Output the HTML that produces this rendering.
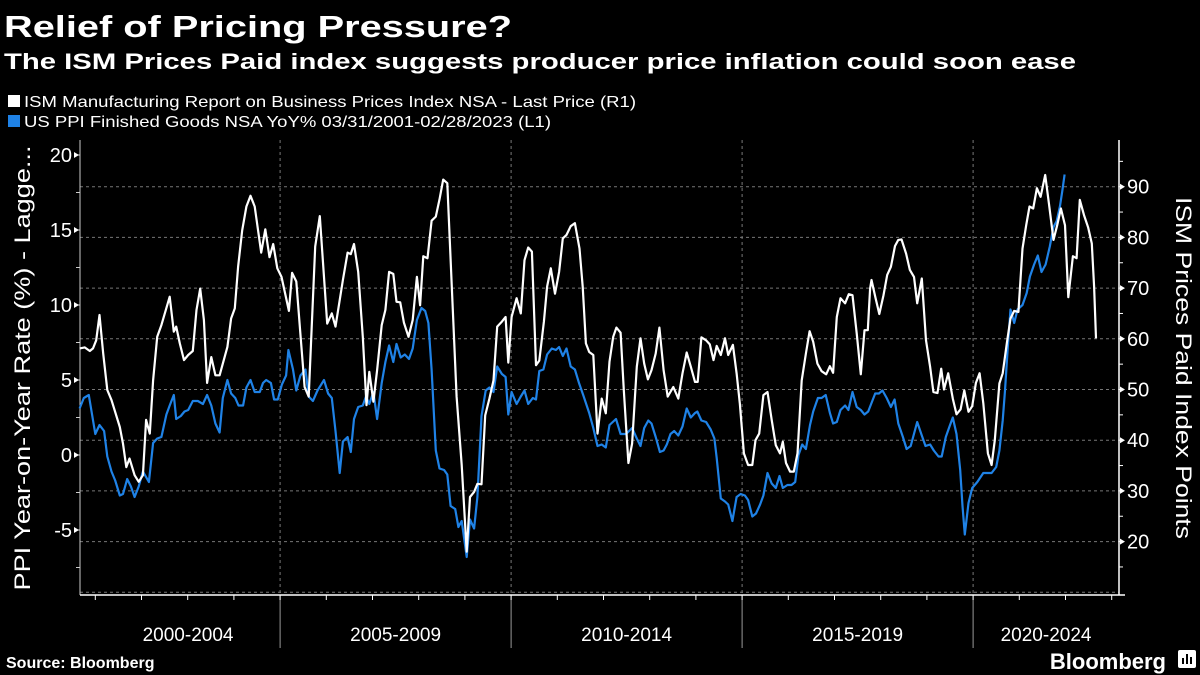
<!DOCTYPE html>
<html><head><meta charset="utf-8"><style>
html,body{margin:0;padding:0;background:#000;}
svg{display:block;font-family:"Liberation Sans","DejaVu Sans",sans-serif;}
</style></head><body>
<svg id="chart" width="1200" height="675" viewBox="0 0 1200 675" xmlns="http://www.w3.org/2000/svg">
<rect width="1200" height="675" fill="#000"/>
<text x="4" y="37" fill="#fff" font-size="31" font-weight="bold" textLength="508" lengthAdjust="spacingAndGlyphs">Relief of Pricing Pressure?</text>
<text x="4" y="69" fill="#fff" font-size="22" font-weight="bold" textLength="1072" lengthAdjust="spacingAndGlyphs">The ISM Prices Paid index suggests producer price inflation could soon ease</text>
<g>
<g>
<rect x="8" y="95" width="12" height="12" fill="#fff"/>
<text x="24" y="107" fill="#fff" font-size="16" textLength="612" lengthAdjust="spacingAndGlyphs">ISM Manufacturing Report on Business Prices Index NSA - Last Price (R1)</text>
</g>
<g>
<rect x="8" y="115" width="12" height="12" fill="#1f82e6"/>
<text x="24" y="127" fill="#fff" font-size="16" textLength="527" lengthAdjust="spacingAndGlyphs">US PPI Finished Goods NSA YoY% 03/31/2001-02/28/2023 (L1)</text>
</g>
</g>
<g id="grid"></g>
<g id="axes"></g>
<g id="series"></g>
<text transform="translate(30,368) rotate(-90)" text-anchor="middle" fill="#fff" font-size="22" textLength="445" lengthAdjust="spacingAndGlyphs">PPI Year-on-Year Rate (%) - Lagge...</text>
<text transform="translate(1176,368) rotate(90)" text-anchor="middle" fill="#fff" font-size="22" textLength="342" lengthAdjust="spacingAndGlyphs">ISM Prices Paid Index Points</text>
<text x="6" y="668" fill="#fff" font-size="16" font-weight="bold">Source: Bloomberg</text>
<text x="1166" y="669" text-anchor="end" fill="#fff" font-size="22" font-weight="bold">Bloomberg</text>
<g>
<rect x="1178" y="650" width="18" height="18" rx="2" fill="#fff"/>
<rect x="1182" y="658" width="2" height="6" fill="#000"/><rect x="1186" y="654" width="2" height="10" fill="#000"/><rect x="1190" y="657" width="2" height="7" fill="#000"/>
</g>
</svg>
<script>
// ISM Prices Paid (right axis): decimal years and values
const ismYears = [2000.66,2000.77,2000.88,2000.95,2001.02,2001.09,2001.17,2001.26,2001.35,2001.53,2001.60,2001.67,2001.74,2001.85,2001.94,2002.03,2002.10,2002.18,2002.25,2002.34,2002.43,2002.61,2002.70,2002.75,2002.83,2002.92,2003.01,2003.11,2003.19,2003.27,2003.35,2003.42,2003.51,2003.60,2003.69,2003.86,2003.94,2004.02,2004.09,2004.18,2004.27,2004.36,2004.45,2004.59,2004.68,2004.77,2004.85,2004.94,2005.03,2005.19,2005.26,2005.35,2005.45,2005.53,2005.62,2005.76,2005.86,2006.02,2006.12,2006.20,2006.36,2006.46,
2006.53,2006.60,2006.69,2006.79,2006.87,2006.93,2007.02,2007.10,2007.20,2007.28,2007.36,2007.45,2007.52,2007.60,2007.68,2007.78,2007.87,2007.96,2008.03,2008.10,2008.19,2008.28,2008.37,2008.45,2008.53,2008.62,2008.71,2008.82,2008.93,2009.04,2009.11,2009.20,2009.27,2009.36,2009.44,2009.53,2009.62,2009.70,2009.80,2009.88,2009.94,2010.01,2010.12,2010.21,2010.29,2010.37,2010.45,2010.54,2010.61,2010.71,2010.78,2010.86,2010.95,2011.04,2011.12,2011.20,2011.29,2011.38,2011.48,2011.55,2011.62,2011.69,2011.78,2011.87,2011.96,2012.05,2012.13,
2012.21,2012.28,2012.37,2012.44,2012.54,2012.62,2012.72,2012.80,2012.88,2012.96,2013.04,2013.13,2013.21,2013.30,2013.39,2013.51,2013.62,2013.71,2013.80,2013.89,2013.98,2014.04,2014.12,2014.22,2014.30,2014.38,2014.45,2014.54,2014.63,2014.70,2014.80,2014.88,2014.95,2015.04,2015.13,2015.22,2015.29,2015.37,2015.46,2015.55,2015.64,2015.73,2015.82,2015.88,2015.95,2016.04,2016.12,2016.20,2016.29,2016.38,2016.46,2016.54,2016.63,2016.72,2016.82,2016.90,2016.97,2017.05,2017.13,2017.23,2017.31,2017.39,2017.48,2017.57,2017.65,2017.72,2017.77,
2017.80,2017.89,2017.97,2018.06,2018.14,2018.22,2018.31,2018.38,2018.45,2018.55,2018.63,2018.72,2018.79,2018.89,2018.98,2019.07,2019.14,2019.23,2019.31,2019.37,2019.46,2019.56,2019.64,2019.73,2019.81,2019.90,2019.98,2020.06,2020.14,2020.22,2020.32,2020.40,2020.47,2020.57,2020.64,2020.73,2020.81,2020.89,2020.98,2021.07,2021.15,2021.22,2021.30,2021.38,2021.46,2021.56,2021.64,2021.74,2021.82,2021.90,2021.99,2022.06,2022.16,2022.24,2022.31,2022.40,2022.49,2022.57,2022.62,2022.66];
const ismValues = [58.1,58.3,57.6,58.1,59.7,64.7,57.1,49.9,47.9,42.6,39.3,34.7,36.4,33.1,31.8,33.1,44.0,41.3,51.8,60.4,62.7,68.3,61.4,62.4,59.1,55.8,56.8,57.6,65.7,69.9,63.7,51.3,56.4,52.8,52.8,58.4,64.0,66.0,74.2,81.4,86.1,88.2,86.1,77.0,81.6,76.1,78.7,73.9,72.2,65.5,73.0,71.3,59.7,50.5,48.6,78.2,84.2,63.0,65.0,62.4,71.6,77.0,
76.7,78.7,73.2,60.4,46.9,53.5,47.6,53.8,62.7,65.7,73.2,72.8,67.3,67.2,63.2,60.4,63.7,72.2,66.6,76.3,75.9,83.3,84.1,87.5,91.4,90.7,71.6,48.6,35.1,18.0,28.8,29.8,31.4,31.3,44.9,48.2,51.8,62.4,63.4,64.3,55.3,64.3,68.0,65.0,75.5,78.0,77.2,54.8,55.7,63.4,70.3,73.9,68.9,73.2,79.8,80.5,82.2,82.8,77.8,70.3,59.1,57.4,56.8,41.3,48.2,45.3,55.5,
60.4,62.2,61.2,49.9,35.5,39.3,54.5,60.1,55.1,52.0,53.8,57.1,62.2,53.8,48.6,50.5,48.2,53.2,57.3,54.5,51.5,51.5,60.3,59.7,58.9,55.8,58.6,56.8,60.1,56.8,58.8,53.2,47.3,37.4,35.1,35.1,40.0,41.3,48.9,49.5,44.0,39.0,37.4,39.7,35.5,33.8,33.8,37.4,51.8,57.1,61.5,59.4,55.1,53.6,53.0,54.6,53.3,64.3,68.0,67.0,68.8,68.6,61.1,53.0,61.7,61.7,69.9,
71.6,68.0,64.9,68.6,72.6,74.2,78.3,79.5,79.6,76.8,73.6,72.2,67.0,71.9,59.7,54.5,49.5,49.3,54.1,50.0,53.2,48.2,45.1,46.1,49.8,45.6,46.7,51.3,53.2,47.3,37.4,35.1,40.0,51.2,53.2,59.1,64.0,65.5,65.3,77.8,82.4,86.1,85.7,89.7,88.0,92.3,86.7,79.5,82.4,85.7,82.4,68.2,76.3,75.9,87.4,84.4,82.0,78.8,70.3,60.1];
// US PPI Finished Goods YoY% (left axis)
const ppiYears = [2000.66,2000.75,2000.86,2001.00,2001.09,2001.19,2001.26,2001.35,2001.43,2001.53,2001.60,2001.69,2001.77,2001.85,2001.94,2002.03,2002.16,2002.25,2002.34,2002.43,2002.54,2002.61,2002.70,2002.75,2002.85,2002.93,2003.01,2003.11,2003.22,2003.33,2003.42,2003.51,2003.60,2003.69,2003.76,2003.86,2003.94,2004.03,2004.10,2004.20,2004.27,2004.36,2004.45,2004.56,2004.63,2004.70,2004.80,2004.87,2004.95,2005.04,2005.13,2005.18,2005.28,2005.35,2005.44,2005.55,2005.62,2005.71,2005.81,2005.95,2006.04,2006.12,2006.20,2006.29,2006.36,2006.46,
2006.53,2006.60,2006.69,2006.79,2006.86,2006.93,2007.02,2007.10,2007.20,2007.28,2007.36,2007.45,2007.52,2007.61,2007.70,2007.79,2007.87,2007.96,2008.06,2008.14,2008.21,2008.28,2008.37,2008.45,2008.55,2008.62,2008.69,2008.79,2008.86,2008.93,2009.04,2009.11,2009.20,2009.27,2009.36,2009.45,2009.53,2009.62,2009.70,2009.80,2009.88,2009.94,2010.01,2010.12,2010.21,2010.29,2010.37,2010.47,2010.54,2010.61,2010.70,2010.78,2010.88,2010.97,2011.04,2011.12,2011.20,2011.29,2011.38,2011.47,2011.56,2011.69,2011.78,2011.87,2011.96,2012.05,2012.13,
2012.27,2012.37,2012.49,2012.62,2012.72,2012.80,2012.88,2012.97,2013.04,2013.13,2013.22,2013.30,2013.37,2013.45,2013.53,2013.62,2013.71,2013.80,2013.89,2013.98,2014.03,2014.12,2014.22,2014.32,2014.40,2014.45,2014.54,2014.63,2014.70,2014.79,2014.88,2014.97,2015.06,2015.13,2015.22,2015.30,2015.39,2015.46,2015.55,2015.64,2015.73,2015.81,2015.88,2015.98,2016.07,2016.15,2016.22,2016.30,2016.38,2016.47,2016.54,2016.64,2016.72,2016.81,2016.90,2016.97,2017.05,2017.13,2017.23,2017.30,2017.39,2017.48,2017.57,2017.65,2017.73,
2017.88,2017.96,2018.04,2018.13,2018.22,2018.30,2018.38,2018.48,2018.56,2018.65,2018.79,2018.89,2018.97,2019.07,2019.15,2019.25,2019.32,2019.41,2019.49,2019.56,2019.64,2019.72,2019.77,2019.82,2019.90,2019.98,2020.09,2020.22,2020.33,2020.40,2020.50,2020.57,2020.64,2020.69,2020.75,2020.81,2020.89,2020.96,2021.07,2021.16,2021.23,2021.32,2021.40,2021.48,2021.57,2021.66,2021.74,2021.81,2021.88,2021.93,2021.98];
const ppiValues = [3.1,3.8,4.0,1.4,2.0,1.6,-0.1,-1.1,-1.7,-2.7,-2.6,-1.6,-2.1,-2.8,-2.1,-1.1,-1.8,0.8,1.1,1.2,2.7,3.3,4.0,2.4,2.6,2.9,3.0,3.6,3.6,3.4,4.0,3.3,2.1,1.5,3.8,5.0,4.1,3.8,3.3,3.3,4.5,5.0,4.2,4.2,4.8,5.0,4.8,3.7,3.7,4.7,5.3,7.0,5.7,4.3,5.3,5.7,3.9,3.6,4.3,5.0,4.1,3.8,1.6,-1.2,0.9,1.2,
0.2,2.4,3.2,3.3,3.9,3.4,4.2,2.4,4.8,6.2,7.3,6.2,7.4,6.5,6.7,6.4,7.1,9.0,9.8,9.6,8.8,5.7,0.3,-0.9,-1.0,-1.3,-3.4,-3.6,-4.8,-4.4,-6.8,-4.3,-4.9,-2.8,2.6,4.3,4.5,4.2,5.9,5.4,5.2,2.7,4.2,3.4,3.9,4.3,3.4,3.8,3.7,5.6,5.7,6.7,7.1,7.0,7.2,6.6,7.1,5.9,5.7,4.8,4.0,2.8,1.8,0.6,0.7,0.5,2.0,
2.4,1.4,1.4,1.8,1.1,0.6,1.8,2.3,2.1,1.2,0.2,0.3,0.7,1.4,1.6,1.3,1.9,3.1,2.5,2.8,2.9,2.3,2.2,1.7,1.1,-0.2,-2.9,-3.1,-3.3,-4.4,-2.8,-2.6,-2.7,-3.0,-4.1,-3.9,-3.3,-2.7,-1.2,-1.9,-2.2,-1.4,-2.2,-2.0,-2.0,-1.8,0.0,0.7,0.4,2.0,2.9,3.8,3.8,4.0,2.8,2.1,2.2,3.0,3.3,3.0,4.2,3.2,3.0,2.7,2.9,
4.1,4.1,4.3,3.8,3.2,3.7,2.1,1.2,0.4,0.6,2.2,1.3,0.6,0.7,0.3,-0.1,-0.1,1.2,1.9,2.5,1.4,-1.0,-3.4,-5.3,-3.2,-2.2,-1.8,-1.2,-1.2,-1.2,-0.8,0.3,2.3,4.3,7.2,9.7,8.8,9.7,10.0,10.8,11.9,12.7,13.3,12.2,12.7,13.9,15.2,15.6,16.6,17.6,18.7];
const leftTicks = [-5,0,5,10,15,20];
const rightTicks = [20,30,40,50,60,70,80,90];
const gridValues = [10,20,30,40,50,60,70,80,90];
const periodLabels = ["2000-2004","2005-2009","2010-2014","2015-2019","2020-2024"];
const periodStarts = [2000,2005,2010,2015,2020];
const yearTicks = [2001,2002,2003,2004,2005,2006,2007,2008,2009,2010,2011,2012,2013,2014,2015,2016,2017,2018,2019,2020,2021,2022,2023];

const PL=80, PR=1119, PT=140, PB=595;
const xs = y => 95.3 + (y-2001)*46.2;
const yL = v => 455 - v*15;
const yR = v => 186.7 + (90 - v)*5.07;
const NS="http://www.w3.org/2000/svg";
function mk(tag, attrs, parent){const e=document.createElementNS(NS,tag);for(const k in attrs)e.setAttribute(k,attrs[k]);parent.appendChild(e);return e;}
const grid=document.getElementById('grid'), axes=document.getElementById('axes'), series=document.getElementById('series');

gridValues.forEach(v=>{
  const l=mk('line',{x1:PL,x2:PR,y1:yR(v),y2:yR(v),stroke:'#777','stroke-width':1,'stroke-dasharray':'3,3'},grid);
  
  
});
periodStarts.slice(1).forEach(p=>{
  const l=mk('line',{x1:xs(p),x2:xs(p),y1:PT,y2:PB,stroke:'#777','stroke-width':1,'stroke-dasharray':'3,3'},grid);
  
  
  const s=mk('line',{x1:xs(p),x2:xs(p),y1:PB,y2:648,stroke:'#999','stroke-width':1},axes);
  
  
});
const la=mk('line',{x1:PL,x2:PL,y1:PT,y2:PB,stroke:'#ccc','stroke-width':1},axes);


const ra=mk('line',{x1:PR,x2:PR,y1:PT,y2:PB,stroke:'#fff','stroke-width':1.5},axes);


const xa=mk('line',{x1:PL,x2:PR+6,y1:PB,y2:PB,stroke:'#fff','stroke-width':1.5},axes);


yearTicks.forEach(yv=>{
  const t=mk('line',{x1:xs(yv),x2:xs(yv),y1:PB,y2:PB+5,stroke:'#fff','stroke-width':1},axes);
  
  
});
periodLabels.forEach((lab,i)=>{
  const a=Math.max(PL, xs(periodStarts[i])), b=Math.min(PR, xs(periodStarts[i]+5));
  const c=(a+b)/2 + (i===0?8:0);
  const t=mk('text',{x:c,y:641,'text-anchor':'middle',fill:'#fff','font-size':19},axes);
  t.textContent=lab;
  
  
});
for(let v=-7.5; v<=20; v+=2.5){
  const t=mk('line',{x1:PL-4,x2:PL,y1:yL(v),y2:yL(v),stroke:'#ccc','stroke-width':1},axes);
  
  
}
leftTicks.forEach(v=>{
  const y=yL(v);
  const m=mk('polygon',{points:`${PL-6},${y-3} ${PL-1},${y} ${PL-6},${y+3}`,fill:'#fff'},axes);
  
  
  const t=mk('text',{x:PL-8,y:y+7,'text-anchor':'end',fill:'#fff','font-size':20},axes);
  t.textContent=v;
  
  
});
for(let v=15; v<=95; v+=5){
  const t=mk('line',{x1:PR,x2:PR+4,y1:yR(v),y2:yR(v),stroke:'#fff','stroke-width':1},axes);
  
  
}
rightTicks.forEach(v=>{
  const y=yR(v);
  const m=mk('polygon',{points:`${PR+1},${y-3} ${PR+6},${y} ${PR+1},${y+3}`,fill:'#fff'},axes);
  
  
  const t=mk('text',{x:PR+8,y:y+7,fill:'#fff','font-size':20},axes);
  t.textContent=v;
  
  
});
function path(years, vals, yf){return years.map((y,i)=>(i?'L':'M')+xs(y).toFixed(1)+','+yf(vals[i]).toFixed(1)).join(' ');}
const pp=mk('path',{d:path(ppiYears,ppiValues,yL),fill:'none',stroke:'#1f82e6','stroke-width':2.2,'stroke-linejoin':'round'},series);


const ip=mk('path',{d:path(ismYears,ismValues,yR),fill:'none',stroke:'#fff','stroke-width':2.2,'stroke-linejoin':'round'},series);


</script>
</body></html>
